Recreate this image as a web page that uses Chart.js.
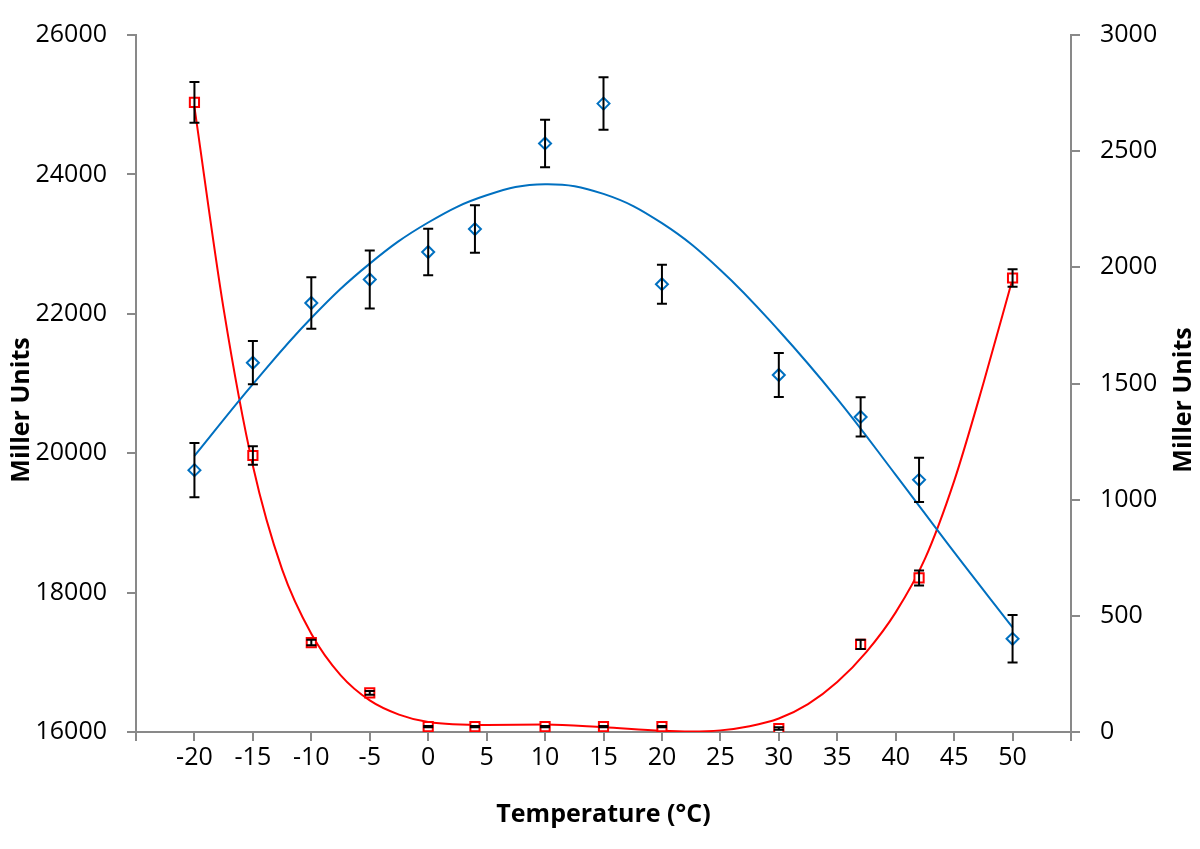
<!DOCTYPE html>
<html>
<head>
<meta charset="utf-8">
<script src="https://cdn.jsdelivr.net/npm/chart.js@4.4.1/dist/chart.umd.min.js"></script>
<style>
  html, body { margin: 0; padding: 0; background: #fff; }
  #wrap { width: 1200px; height: 849px; }
</style>
</head>
<body>
<div id="wrap"><canvas id="chart" width="1200" height="849"></canvas></div>
<script>
// measured points (x = temperature)
const temps = [-20, -15, -10, -5, 0, 4, 10, 15, 20, 30, 37, 42, 50];
const blueUnits = [19757, 21298, 22155, 22492, 22887, 23216, 24444, 25016, 22425, 21122, 20520, 19618, 17337];
const blueErr = [390, 310, 370, 415, 335, 340, 340, 377, 280, 317, 282, 318, 340];
const redUnits = [2710, 1190, 385, 168, 23, 23, 23, 23, 23, 15, 377, 663, 1954];
const redErr = [88, 40, 12, 8, 3, 3, 3, 3, 3, 5, 20, 32, 38];

// trendlines
const blueTrendX = [-20, -15, -10, -5, 0, 5, 10, 15, 20, 25, 30, 35, 40, 45, 50];
const blueTrendY = [19960, 20990, 21940, 22720, 23310, 23700, 23860, 23720, 23300, 22630, 21760, 20780, 19690, 18580, 17500];
const redTrendX = [-20, -17.5, -15, -12.5, -10, -7.5, -5, -2.5, 0, 5, 10, 15, 20, 22.5, 25, 27.5, 30, 32.5, 35, 37.5, 40, 42.5, 45, 47.5, 50];
const redTrendY = [2690, 1820, 1146, 700, 423, 245, 136, 75, 43, 30, 32, 20, 5, 2, 7, 25, 58, 120, 215, 345, 515, 745, 1080, 1500, 1950];

// axes
const xMin = -25, xMax = 55, xStep = 5;
const xLabelled = [-20, -15, -10, -5, 0, 5, 10, 15, 20, 25, 30, 35, 40, 45, 50];
const leftMin = 16000, leftMax = 26000, leftStep = 2000;
const rightMin = 0, rightMax = 3000, rightStep = 500;
const xTitle = 'Temperature (°C)';
const yTitle = 'Miller Units';

const BLUE = '#0070C0';
const RED = '#FF0000';
const AXIS = '#898989';
const FONT = "'Open Sans'";

const pts = (xs, ys) => xs.map((x, i) => ({ x: x, y: ys[i] }));

const errorBars = {
    id: 'errorBars',
    afterDatasetsDraw(chart) {
        const ctx = chart.ctx;
        chart.data.datasets.forEach((ds, i) => {
            if (!ds.errors) return;
            const meta = chart.getDatasetMeta(i);
            const yScale = chart.scales[ds.yAxisID];
            ctx.save();
            ctx.strokeStyle = '#000';
            ctx.lineWidth = 2;
            meta.data.forEach((pt, j) => {
                const v = ds.data[j].y, e = ds.errors[j];
                const top = yScale.getPixelForValue(v + e);
                const bot = yScale.getPixelForValue(v - e);
                ctx.beginPath();
                ctx.moveTo(pt.x, top); ctx.lineTo(pt.x, bot);
                ctx.moveTo(pt.x - 5, top); ctx.lineTo(pt.x + 5, top);
                ctx.moveTo(pt.x - 5, bot); ctx.lineTo(pt.x + 5, bot);
                ctx.stroke();
            });
            ctx.restore();
        });
    }
};

// both vertical titles read bottom-to-top
const sideTitles = {
    id: 'sideTitles',
    afterDraw(chart) {
        const ctx = chart.ctx;
        ctx.save();
        ctx.font = 'bold 25px ' + FONT;
        ctx.fillStyle = '#000';
        ctx.textAlign = 'center';
        ctx.textBaseline = 'middle';
        [[22, 410], [1184, 400]].forEach(([x, y]) => {
            ctx.save();
            ctx.translate(x, y);
            ctx.rotate(-Math.PI / 2);
            ctx.fillText(yTitle, 0, 0);
            ctx.restore();
        });
        ctx.restore();
    }
};

Chart.defaults.font.family = FONT;
Chart.defaults.font.size = 25;
Chart.defaults.color = '#000';

const axisGrid = { drawOnChartArea: false, color: AXIS, lineWidth: 2, tickLength: 9 };
const axisBorder = { color: AXIS, width: 2 };

new Chart(document.getElementById('chart'), {
    type: 'scatter',
    data: {
        datasets: [
            {
                data: pts(temps, blueUnits), errors: blueErr, yAxisID: 'y',
                pointStyle: 'rectRot', pointRadius: 6, borderWidth: 2,
                borderColor: BLUE, backgroundColor: '#fff'
            },
            {
                data: pts(temps, redUnits), errors: redErr, yAxisID: 'y2',
                pointStyle: 'rect', pointRadius: 6.5, borderWidth: 2,
                borderColor: RED, backgroundColor: '#fff'
            },
            {
                data: pts(blueTrendX, blueTrendY), yAxisID: 'y', showLine: true,
                pointRadius: 0, borderColor: BLUE, borderWidth: 2,
                tension: 0.4
            },
            {
                data: pts(redTrendX, redTrendY), yAxisID: 'y2', showLine: true,
                pointRadius: 0, borderColor: RED, borderWidth: 2,
                cubicInterpolationMode: 'monotone'
            }
        ]
    },
    options: {
        responsive: false,
        animation: false,
        layout: { padding: { top: 33, left: 0, right: 0, bottom: 0 } },
        plugins: { legend: { display: false }, tooltip: { enabled: false } },
        scales: {
            x: {
                type: 'linear', min: xMin, max: xMax,
                grid: axisGrid, border: axisBorder,
                ticks: {
                    stepSize: xStep, autoSkip: false, maxRotation: 0, padding: 2,
                    callback: v => xLabelled.includes(v) ? String(v) : ''
                },
                title: {
                    display: true, text: xTitle,
                    font: { weight: 'bold', size: 25 },
                    padding: { top: 0, bottom: 19 }
                },
                afterFit: s => { s.height = 117; }
            },
            y: {
                type: 'linear', position: 'left', min: leftMin, max: leftMax,
                grid: axisGrid, border: axisBorder,
                ticks: { stepSize: leftStep, padding: 20, callback: v => String(v) },
                afterFit: s => { s.width = 136; }
            },
            y2: {
                type: 'linear', position: 'right', min: rightMin, max: rightMax,
                grid: axisGrid, border: axisBorder,
                ticks: { stepSize: rightStep, padding: 20, callback: v => String(v) },
                afterFit: s => { s.width = 129; }
            }
        }
    },
    plugins: [errorBars, sideTitles]
});
</script>
</body>
</html>
